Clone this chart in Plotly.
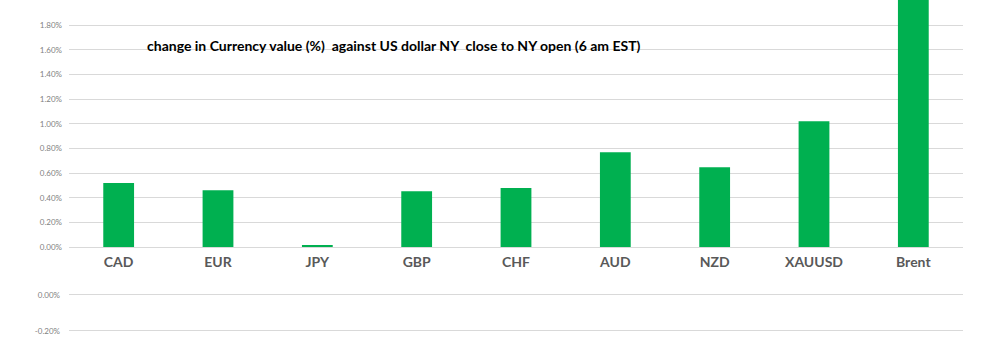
import plotly.graph_objects as go

categories = ["CAD", "EUR", "JPY", "GBP", "CHF", "AUD", "NZD", "XAUUSD", "Brent"]
changes = [0.0052, 0.0046, 0.00015, 0.00453, 0.00478, 0.00769, 0.00648, 0.0102, 0.021]
lower_tick_values = [0.0, -0.002]
lower_tick_labels = ["0.00%", "-0.20%"]
title_text = "change in Currency value (%)  against US dollar NY  close to NY open (6 am EST)"

W, H = 982, 353
grid = "#d9d9d9"
tick_font = dict(family="Lato, Liberation Sans, sans-serif", size=8, color="#7f7f7f")

fig = go.Figure()
fig.add_trace(go.Bar(x=categories, y=changes, marker_color="#00b050",
                     marker_line_width=0, xaxis="x", yaxis="y"))
# lower (empty) chart
fig.add_trace(go.Scatter(x=categories, y=[None] * len(categories), mode="markers",
                         xaxis="x2", yaxis="y2", showlegend=False))

fig.update_layout(
    width=W, height=H,
    margin=dict(l=69, r=19, t=0, b=0, autoexpand=False),
    paper_bgcolor="white", plot_bgcolor="white",
    showlegend=False, bargap=0.69,
    xaxis=dict(domain=[0, 1], anchor="y", showgrid=False, showline=True,
               linecolor=grid, linewidth=1, ticks="", automargin=False,
               ticklabelstandoff=2,
               tickfont=dict(family="Lato, Liberation Sans, sans-serif", size=14,
                             color="#595959", weight="bold")),
    yaxis=dict(domain=[(H - 247) / H, 1], range=[0, 0.02004], dtick=0.002,
               tickformat=".2%", showgrid=True, gridcolor=grid, gridwidth=1,
               zeroline=False, showline=False, ticks="", tickfont=tick_font,
               ticklabelstandoff=6, automargin=False),
    xaxis2=dict(domain=[0, 1], anchor="y2", showgrid=False, showline=False,
                showticklabels=False, ticks="", automargin=False),
    yaxis2=dict(domain=[0, 73 / H], range=[-0.00325, 0.00084],
                tickmode="array", tickvals=lower_tick_values, ticktext=lower_tick_labels,
                showgrid=True, gridcolor=grid, gridwidth=1,
                zeroline=False, showline=False, ticks="", tickfont=tick_font,
                ticklabelstandoff=8, automargin=False),
)

fig.add_annotation(text=title_text, xref="paper", yref="paper",
                   x=(145 - 69) / (W - 69 - 19), y=(H - 46) / H,
                   xanchor="left", yanchor="middle", showarrow=False,
                   font=dict(family="Lato, Liberation Sans, sans-serif", size=14,
                             color="black", weight="bold"))

fig.write_html("out.html")
